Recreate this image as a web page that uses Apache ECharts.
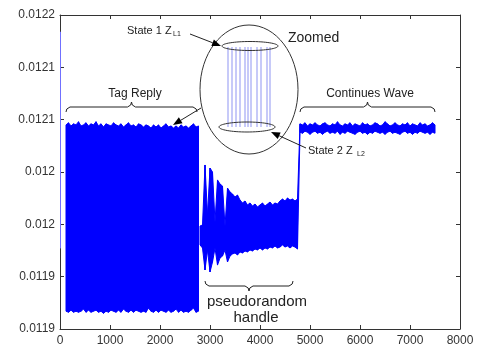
<!DOCTYPE html>
<html><head><meta charset="utf-8">
<script src="https://cdn.jsdelivr.net/npm/echarts@6/dist/echarts.min.js"></script>
<style>html,body{margin:0;padding:0;background:#fff}#c{width:481px;height:349px}</style>
</head><body><div id="c"></div>
<script>
// ---------- axis tick labels ----------
const xTickLabels = ['0','1000','2000','3000','4000','5000','6000','7000','8000'];
const yTickLabels = ['0.0119','0.0119','0.012','0.012','0.0121','0.0121','0.0122'];

// ---------- initial transient ----------
const transientX = [10, 10];
const transientY = [0.012184, 0.011977];

// ---------- Tag Reply segment (envelope samples, start 120, step 50) ----------
const tagStart = 120, tagStep = 50;
const tagHi = [0.012095,0.012097,0.012094,0.012096,0.012095,0.012098,0.012094,0.012095,0.012097,0.012094,
0.012096,0.012095,0.012098,0.012094,0.012096,0.012093,0.012096,0.012095,0.012094,0.012097,
0.012095,0.012094,0.012096,0.012093,0.012095,0.012097,0.012094,0.012095,0.012093,0.012096,
0.012095,0.012093,0.012095,0.012094,0.012092,0.012095,0.012093,0.012095,0.012092,0.012094,
0.012096,0.012093,0.012094,0.012092,0.012094,0.012092,0.012095,0.012093,0.012094,0.012092,
0.012094,0.012096,0.012093,0.012094];
const tagLo = [0.011917,0.011916,0.011918,0.011916,0.011917,0.011916,0.011917,0.011919,0.011916,0.011918,
0.011916,0.011917,0.011918,0.011916,0.011917,0.011915,0.011917,0.011916,0.011918,0.011917,
0.011916,0.011918,0.011916,0.011919,0.011917,0.011916,0.011918,0.011916,0.011918,0.011917,
0.011916,0.011917,0.011916,0.011920,0.011917,0.011916,0.011918,0.011916,0.011918,0.011917,
0.011916,0.011918,0.011916,0.011917,0.011919,0.011916,0.011918,0.011916,0.011917,0.011916,
0.011918,0.011920,0.011916,0.011917];

// ---------- pseudorandom handle + continuous wave (start 2800, step 50) ----------
const restStart = 2800, restStep = 50;
const prHi = [0.0119984,0.0119994,0.0120567,0.0120089,0.0120538,0.0120500,0.0120022,0.0120424,0.0120385,0.0120366,
0.0119984,0.0120347,0.0120309,0.0120290,0.0120261,0.0120280,0.0120232,0.0120204,0.0120223,0.0120185,
0.0120204,0.0120175,0.0120194,0.0120166,0.0120185,0.0120204,0.0120175,0.0120194,0.0120213,0.0120185,
0.0120204,0.0120194,0.0120223,0.0120242,0.0120223,0.0120252,0.0120232,0.0120242,0.0120223,0.0120242];
const prLo = [0.0119803,0.0119774,0.0119564,0.0119755,0.0119545,0.0119640,0.0119774,0.0119611,0.0119678,0.0119697,
0.0119755,0.0119640,0.0119697,0.0119717,0.0119726,0.0119707,0.0119736,0.0119726,0.0119745,0.0119736,
0.0119755,0.0119745,0.0119764,0.0119755,0.0119774,0.0119755,0.0119774,0.0119764,0.0119783,0.0119774,
0.0119793,0.0119774,0.0119783,0.0119803,0.0119783,0.0119793,0.0119774,0.0119793,0.0119783,0.0119764];
const cwHi = [0.012096,0.012095,0.012097,0.012094,0.012096,0.012095,0.012097,0.012095,0.012094,0.012096,
0.012097,0.012095,0.012094,0.012096,0.012095,0.012098,0.012095,0.012094,0.012096,0.012095,
0.012097,0.012094,0.012096,0.012095,0.012094,0.012097,0.012095,0.012096,0.012094,0.012095,
0.012097,0.012096,0.012094,0.012095,0.012098,0.012096,0.012094,0.012095,0.012097,0.012095,
0.012094,0.012096,0.012095,0.012097,0.012094,0.012096,0.012095,0.012094,0.012097,0.012095,
0.012096,0.012094,0.012095,0.012097,0.012095];
const cwLo = [0.012088,0.012087,0.012089,0.012088,0.012086,0.012088,0.012089,0.012087,0.012088,0.012086,
0.012088,0.012089,0.012087,0.012088,0.012087,0.012089,0.012086,0.012088,0.012087,0.012089,
0.012088,0.012087,0.012086,0.012088,0.012089,0.012087,0.012088,0.012086,0.012088,0.012087,
0.012089,0.012088,0.012087,0.012088,0.012086,0.012088,0.012089,0.012087,0.012088,0.012087,
0.012086,0.012088,0.012089,0.012087,0.012088,0.012086,0.012088,0.012087,0.012089,0.012088,
0.012087,0.012088,0.012086,0.012088,0.012087];

// ---------- zoomed inset (switching between state 1 and state 2) ----------
const zoomTime  = [6, 10, 14, 18, 23, 26, 29, 35, 39, 45, 48];
const zoomState1 = [0.012095,0.012095,0.012095,0.012095,0.012095,0.012095,0.012095,0.012095,0.012095,0.012095,0.012095];
const zoomState2 = [0.011917,0.011917,0.011917,0.011917,0.011917,0.011917,0.011917,0.011917,0.011917,0.011917,0.011917];

// ---------- build series data: one item per pair of neighbouring samples ----------
const BLUE = '#0000ff';
const FONT = 'Liberation Sans, Arial, sans-serif';
const envelopeData = [];
function addSegment(start, step, hi, lo) {
  for (let i = 0; i < hi.length - 1; i++) {
    envelopeData.push([start + i * step, lo[i], hi[i], start + (i + 1) * step, lo[i + 1], hi[i + 1]]);
  }
}
addSegment(tagStart, tagStep, tagHi, tagLo);
addSegment(restStart, restStep, prHi.concat(cwHi), prLo.concat(cwLo));

function renderEnvelope(params, api) {
  const a = api.coord([api.value(0), api.value(2)]);
  const b = api.coord([api.value(3), api.value(5)]);
  const c = api.coord([api.value(3), api.value(4)]);
  const d = api.coord([api.value(0), api.value(1)]);
  return { type: 'polygon', shape: { points: [a, b, c, d] },
    style: { fill: BLUE, stroke: BLUE, lineWidth: 1 } };
}

const zoomData = [];
zoomTime.forEach((t, i) => { zoomData.push([t, zoomState1[i]], [t, zoomState2[i]], [t, '-']); });

// ---------- annotation helpers ----------
const INK = '#222';
function arrow(x1, y1, x2, y2) {
  const dx = x2 - x1, dy = y2 - y1, L = Math.hypot(dx, dy), ux = dx / L, uy = dy / L, nx = -uy, ny = ux;
  const bx = x2 - ux * 9, by = y2 - uy * 9;
  return [
    { type: 'line', z: 100, shape: { x1, y1, x2: bx, y2: by }, style: { stroke: INK, lineWidth: 1 } },
    { type: 'polygon', z: 100, shape: { points: [[x2, y2], [bx + nx * 3.5, by + ny * 3.5], [bx - nx * 3.5, by - ny * 3.5]] }, style: { fill: '#000' } }
  ];
}
function brace(x1, x2, y, d) {
  const xm = (x1 + x2) / 2;
  return { type: 'polyline', z: 100, shape: { points: [
    [x1, y + 5 * d], [x1 + 0.8, y + 2 * d], [x1 + 4, y], [xm - 4, y], [xm - 0.8, y - 2 * d], [xm, y - 5 * d],
    [xm + 0.8, y - 2 * d], [xm + 4, y], [x2 - 4, y], [x2 - 0.8, y + 2 * d], [x2, y + 5 * d]] },
    style: { stroke: INK, lineWidth: 1, fill: null } };
}
function text(t, x, y, size, align) {
  return { type: 'text', z: 100, x, y, style: { text: t, fontSize: size, fontFamily: FONT, fill: INK,
    align: align || 'center', verticalAlign: 'middle' } };
}
function ellipse(cx, cy, rx, ry) {
  return { type: 'ellipse', z: 100, shape: { cx, cy, rx, ry }, style: { stroke: '#333', lineWidth: 1, fill: null } };
}

const graphics = [].concat(
  ellipse(249, 89.5, 49, 64.5),
  ellipse(250, 46, 28, 4.5),
  ellipse(247, 127, 28, 5),
  text('State 1 Z', 127, 31, 11, 'left'),
  text('L1', 173, 34, 7, 'left'),
  arrow(190, 34, 221, 46),
  text('Zoomed', 288, 38, 14, 'left'),
  text('State 2 Z', 308, 151, 11, 'left'),
  text('L2', 357, 154, 7, 'left'),
  arrow(306, 148, 271, 132),
  text('Tag Reply', 135, 94, 12),
  brace(66, 197, 107, 1),
  arrow(201, 108, 173, 125),
  text('Continues Wave', 370, 94, 12),
  brace(300, 435, 107, 1),
  brace(205, 293, 286, -1),
  text('pseudorandom', 257, 302, 15),
  text('handle', 256, 318, 15)
);

const axisCommon = {
  axisLine: { show: true, onZero: false, lineStyle: { color: '#333', width: 1 } },
  axisTick: { show: true, inside: true, length: 4, lineStyle: { color: '#333' } },
  splitLine: { show: false }
};

const chart = echarts.init(document.getElementById('c'), null, { renderer: 'canvas' });
chart.setOption({
  animation: false,
  backgroundColor: '#fff',
  grid: [
    { left: 60, right: 21, top: 15, bottom: 20, outerBoundsMode: 'none' },
    { left: 222, top: 47, width: 56, height: 80, outerBoundsMode: 'none' }
  ],
  xAxis: [
    Object.assign({ type: 'value', gridIndex: 0, position: 'bottom', min: 0, max: 8000, interval: 1000,
      axisLabel: { fontSize: 12, fontFamily: FONT, color: '#333', margin: 6,
        formatter: v => xTickLabels[Math.round(v / 1000)] } }, axisCommon),
    Object.assign({ type: 'value', gridIndex: 0, position: 'top', min: 0, max: 8000, interval: 1000,
      axisLabel: { show: false } }, axisCommon),
    { type: 'value', gridIndex: 1, min: 0, max: 56, show: false }
  ],
  yAxis: [
    Object.assign({ type: 'value', gridIndex: 0, position: 'left', min: 0.0119, max: 0.0122, interval: 0.00005,
      axisLabel: { fontSize: 12, fontFamily: FONT, color: '#333', margin: 5,
        formatter: v => yTickLabels[Math.round((v - 0.0119) / 0.00005)] } }, axisCommon),
    Object.assign({ type: 'value', gridIndex: 0, position: 'right', min: 0.0119, max: 0.0122, interval: 0.00005,
      axisLabel: { show: false } }, axisCommon),
    { type: 'value', gridIndex: 1, min: 0.011917, max: 0.012095, show: false }
  ],
  series: [
    { name: 'transient', type: 'line', symbol: 'none', silent: true,
      data: transientX.map((x, i) => [x, transientY[i]]), lineStyle: { color: '#7070ff', width: 1 } },
    { name: 'signal', type: 'custom', silent: true, renderItem: renderEnvelope,
      encode: { x: [0, 3], y: [1, 2, 4, 5] }, data: envelopeData, clip: true },
    { name: 'zoom', type: 'line', xAxisIndex: 2, yAxisIndex: 2, symbol: 'none', silent: true,
      connectNulls: false, data: zoomData, lineStyle: { color: '#8f95f2', width: 1 } }
  ],
  graphic: { elements: graphics }
});
</script></body></html>
